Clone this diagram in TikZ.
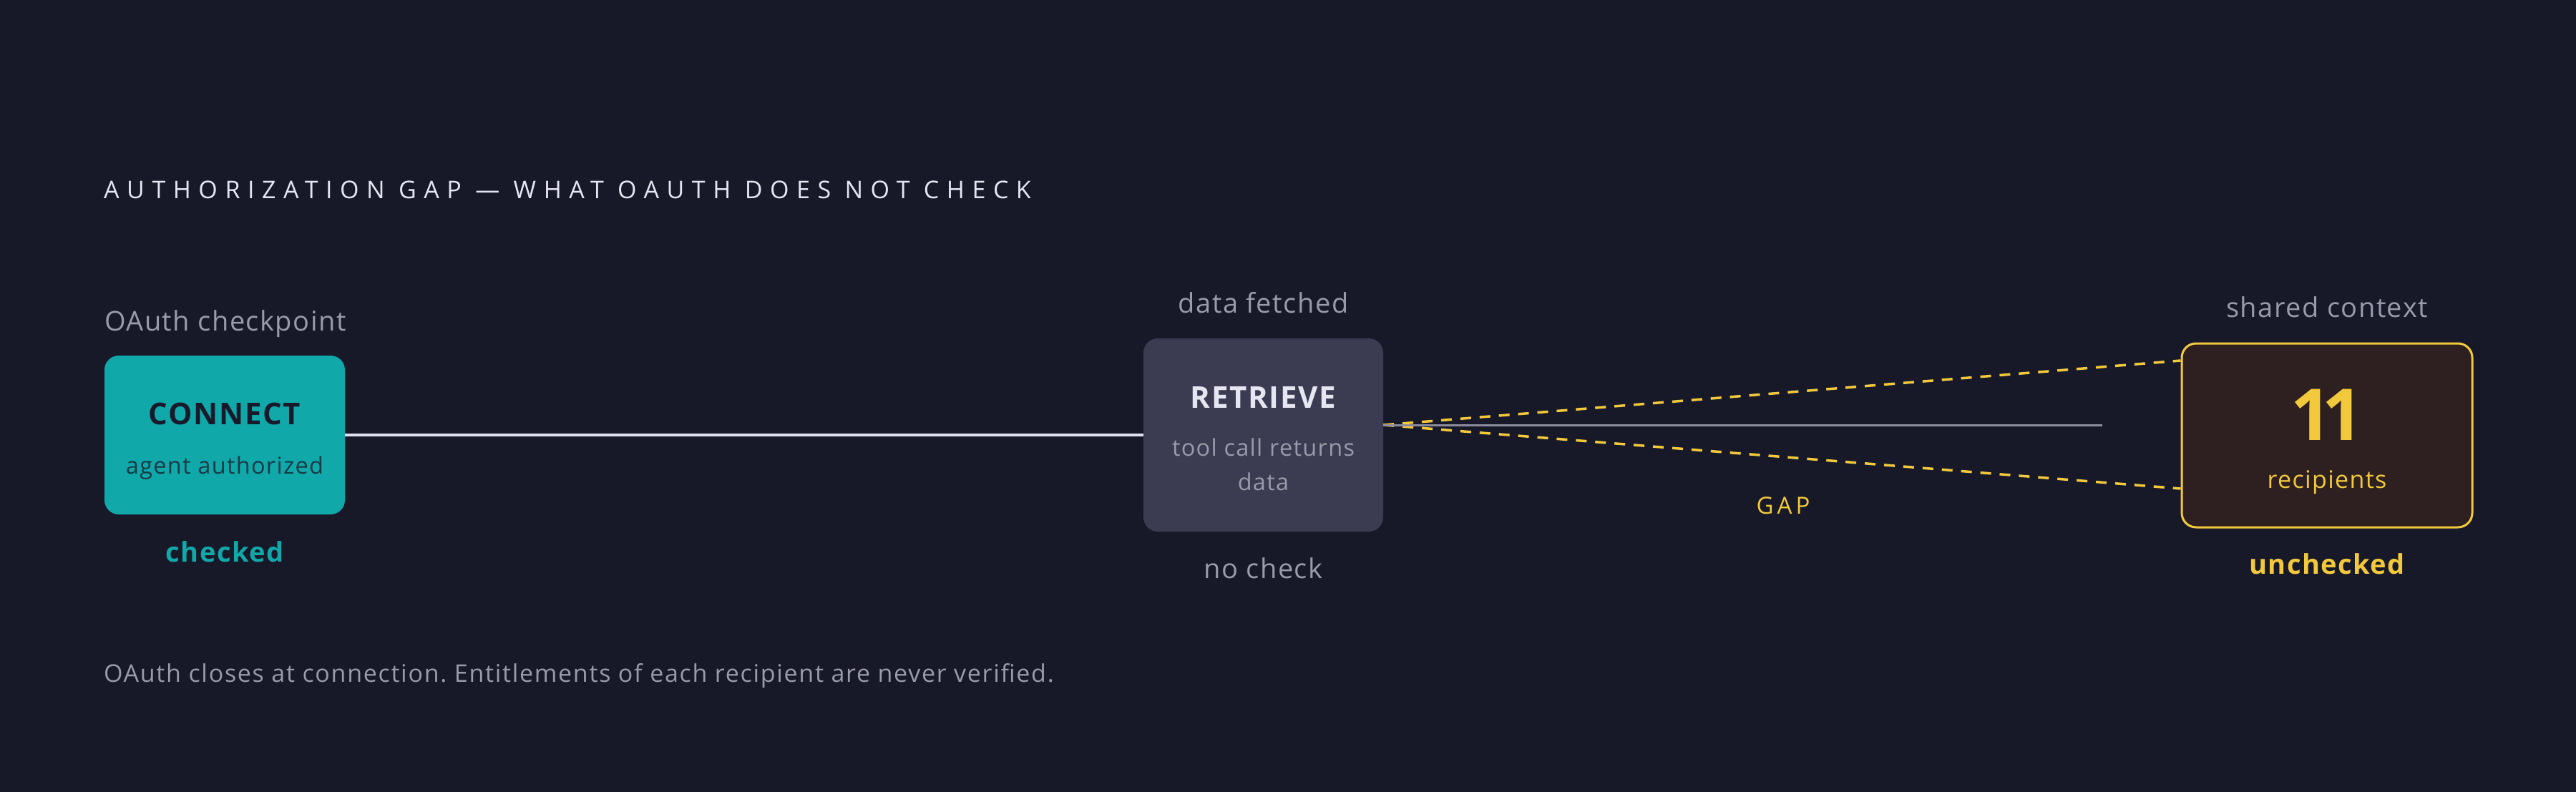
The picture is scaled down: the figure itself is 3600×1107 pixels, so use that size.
\documentclass[tikz,border=0pt]{standalone}
\usepackage{fontspec}
\usetikzlibrary{calc}
\setmainfont{Open Sans}[LetterSpace=4]
\frenchspacing
\definecolor{bg}{HTML}{171929}
\definecolor{teal}{HTML}{10A8A9}
\definecolor{darkink}{HTML}{171A2B}
\definecolor{tealink}{HTML}{183A46}
\definecolor{lblgrey}{HTML}{9A9AAB}
\definecolor{midbox}{HTML}{3B3C52}
\definecolor{lightink}{HTML}{E6E6F2}
\definecolor{lightline}{HTML}{E0E0EE}
\definecolor{greyline}{HTML}{8C8C9C}
\definecolor{gold}{HTML}{F2C93B}
\definecolor{ctxfill}{HTML}{2E2020}
\begin{document}
\begin{tikzpicture}[x=1pt,y=-1pt,
  box/.style={rectangle, rounded corners=20pt, inner sep=0pt, anchor=center},
  txt/.style={inner sep=0pt, anchor=base},
  lbl/.style={txt, font=\fontsize{38}{46}\selectfont, text=lblgrey},
  head/.style={txt, font=\fontsize{42}{50}\selectfont\bfseries},
  sub/.style={txt, font=\fontsize{32.5}{40}\selectfont},
  status/.style={txt, font=\fontsize{38}{46}\selectfont\bfseries},
  solidlink/.style={line width=4pt},
  gaplink/.style={gold, line width=3.5pt, dash pattern=on 15pt off 12pt}
]
\fill[bg] (0,0) rectangle (3600,1107);
\useasboundingbox (0,0) rectangle (3600,1107);

% title
\node[txt, anchor=base west, text=lightink, font=\fontsize{34}{40}\selectfont] (title) at (145,278)
  {\addfontfeatures{LetterSpace=31}AUTHORIZATION GAP — WHAT OAUTH DOES NOT CHECK};

% boxes
\node[box, fill=teal, minimum width=336pt, minimum height=222pt] (connect) at (314,608) {};
\node[box, fill=midbox, minimum width=335pt, minimum height=270pt] (retrieve) at (1765.5,608) {};
\node[box, fill=ctxfill, draw=gold, line width=3pt, minimum width=406pt, minimum height=257pt] (ctx) at (3252,608.5) {};

% connect texts
\node[lbl, anchor=base west] (oauthlbl) at (146,462) {OAuth checkpoint};
\node[head, text=darkink] (connecttxt) at (314,593) {CONNECT};
\node[sub, text=tealink] (agenttxt) at (314,662) {agent authorized};
\node[status, text=teal] (checked) at (314,785) {checked};

% retrieve texts
\node[lbl] (fetched) at (1765.5,437) {data fetched};
\node[head, text=lightink] (retrievetxt) at (1765.5,570) {RETRIEVE};
\node[sub, text=lblgrey] (toolcall1) at (1765.5,637) {tool call returns};
\node[sub, text=lblgrey] (toolcall2) at (1765.5,685) {data};
\node[lbl] (nocheck) at (1765.5,808) {no check};

% context texts
\node[lbl] (shared) at (3252,443) {shared context};
\node[txt, text=gold, font=\fontsize{100}{110}\selectfont\bfseries] (eleven) at (3252,615)
  {1\kern-14pt 1};
\node[sub, text=gold, font=\fontsize{34}{42}\selectfont] (recip) at (3252,682) {recipients};
\node[status, text=gold] (unchecked) at (3252,802) {unchecked};

% gap label
\node[txt, text=gold, font=\fontsize{33}{40}\selectfont] (gaplbl) at (2492,718)
  {\addfontfeatures{LetterSpace=15}GAP};

% footer
\node[txt, anchor=base west, text=lblgrey, font=\fontsize{34}{42}\selectfont] (footer) at (145,953)
  {\addfontfeatures{LetterSpace=5}OAuth closes at connection. Entitlements of each recipient are never verified.};

% connectors
\coordinate (fanout) at ($(retrieve.east)+(0,-14)$);
\coordinate (ctxtop) at ($(ctx.west)+(0,-104.5)$);
\coordinate (ctxbot) at ($(ctx.west)+(0,74.5)$);
\coordinate (greyend) at (2938,594);
\draw[solidlink, lightline] (connect.east) -- (retrieve.west);
\draw[gaplink] (fanout) -- (ctxtop);
\draw[gaplink] (fanout) -- (ctxbot);
\draw[greyline, line width=3pt] (fanout) -- (greyend);
\end{tikzpicture}
\end{document}
